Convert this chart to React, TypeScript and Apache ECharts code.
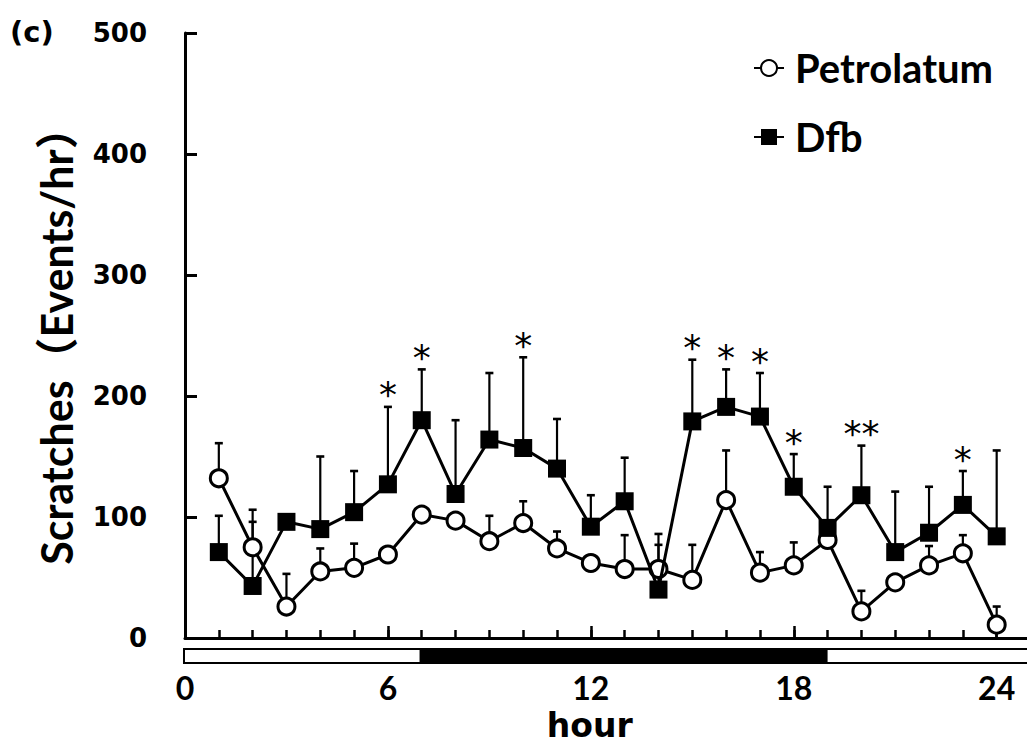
import React, { useEffect, useRef } from "react";
import * as echarts from "echarts";

// ---- data ----
const hours = [1, 2, 3, 4, 5, 6, 7, 8, 9, 10, 11, 12, 13, 14, 15, 16, 17, 18, 19, 20, 21, 22, 23, 24];
const petrolatum = [132, 75, 26, 55, 58, 69, 102, 97, 80, 95, 74, 62, 57, 57, 48, 114, 54, 60, 81, 22, 46, 60, 70, 11];
const petrolatumErr = [29, 31, 27, 19, 20, null, null, null, 21, 18, 14, null, 28, 29, 29, 41, 17, 19, null, 17, null, 16, 15, 15];
const dfb = [71, 43, 96, 90, 104, 127, 180, 119, 164, 157, 140, 92, 113, 40, 179, 191, 183, 125, 91, 118, 71, 87, 110, 84];
const dfbErr = [30, 53, null, 60, 34, 64, 42, 61, 55, 75, 41, 26, 36, 37, 51, 31, 36, 27, 34, 41, 50, 38, 28, 71];
const sigHours = [6, 7, 10, 15, 16, 17, 18, 20, 23];
const sigMarks = ["*", "*", "*", "*", "*", "*", "*", "**", "*"];
const phaseStart = [0, 7, 19];
const phaseEnd = [7, 19, 25];
const phaseDark = [0, 1, 0];
const xLabelStep = 6;
const seriesNames = ["Petrolatum", "Dfb"];

function errData(vals: number[], errs: (number | null)[]) {
  const out: number[][] = [];
  hours.forEach((h, i) => {
    const e = errs[i];
    if (e !== null && e !== undefined) out.push([h, vals[i], e]);
  });
  return out;
}

const errRender = (params: any, api: any) => {
  const x = api.value(0);
  const v = api.value(1);
  const e = api.value(2);
  const base = api.coord([x, v]);
  const top = api.coord([x, v + e]);
  return {
    type: "group",
    children: [
      { type: "line", shape: { x1: base[0], y1: base[1], x2: top[0], y2: top[1] }, style: { stroke: "#000", lineWidth: 2.2 } },
      { type: "line", shape: { x1: top[0] - 4, y1: top[1], x2: top[0] + 4, y2: top[1] }, style: { stroke: "#000", lineWidth: 2.6 } },
    ],
  };
};

export default function App() {
  const ref = useRef<HTMLDivElement>(null);

  useEffect(() => {
    document.body.style.margin = "0";
    if (!ref.current) return;
    const chart = echarts.init(ref.current, undefined, { renderer: "svg" });

    const phaseData = phaseStart.map((s, i) => [s, phaseEnd[i], phaseDark[i]]);
    const sigData = sigHours.map((h) => [h, dfb[h - 1] + (dfbErr[h - 1] || 0)]);

    const option: any = {
      animation: false,
      backgroundColor: "#fff",
      grid: { left: 185, right: -3.5, top: 33, bottom: 106, containLabel: false, outerBoundsMode: "none" },
      legend: {
        orient: "vertical",
        left: 753,
        top: 48,
        padding: 0,
        itemGap: 29,
        itemWidth: 30,
        itemHeight: 20,
        data: seriesNames,
        textStyle: { fontFamily: "Lato", fontWeight: "bold", fontSize: 40, color: "#000", lineHeight: 40, padding: [0, 0, 0, 6] },
      },
      graphic: [
        {
          type: "text",
          left: 10,
          top: 17,
          style: { text: "(c)", fontFamily: "DejaVu Sans", fontWeight: "bold", fontSize: 29, fill: "#000" },
        },
      ],
      xAxis: [
        {
          type: "value",
          min: 0,
          max: 25,
          interval: 1,
          position: "bottom",
          offset: 0,
          axisLine: { show: true, lineStyle: { color: "#000", width: 3 } },
          axisTick: { show: true, inside: true, length: 8, lineStyle: { color: "#000", width: 2.5 } },
          axisLabel: { show: false },
          splitLine: { show: false },
        },
        {
          type: "value",
          min: 0,
          max: 25,
          interval: xLabelStep,
          position: "bottom",
          offset: 0,
          axisLine: { show: false },
          axisTick: { show: true, inside: true, length: 12, lineStyle: { color: "#000", width: 2.5 } },
          axisLabel: {
            show: true,
            margin: 33,
            color: "#000",
            fontFamily: "Lato",
            fontWeight: "bold",
            fontSize: 32,
            formatter: (v: number) => (v % xLabelStep === 0 ? String(v) : ""),
          },
          splitLine: { show: false },
          name: "hour",
          nameLocation: "middle",
          nameGap: 72,
          nameTextStyle: {
            color: "#000",
            fontFamily: "DejaVu Sans",
            fontWeight: "bold",
            fontSize: 33,
            lineHeight: 30,
            padding: [0, 36, 0, 0],
          },
        },
      ],
      yAxis: {
        type: "value",
        min: 0,
        max: 500,
        interval: 100,
        axisLine: { show: true, lineStyle: { color: "#000", width: 3 } },
        axisTick: { show: true, inside: true, length: 12, lineStyle: { color: "#000", width: 3 } },
        axisLabel: { color: "#000", fontFamily: "DejaVu Sans", fontWeight: "bold", fontSize: 26, margin: 38 },
        splitLine: { show: false },
        name: "Scratches（Events/hr）",
        nameLocation: "middle",
        nameGap: 107,
        nameTextStyle: {
          color: "#000",
          fontFamily: "Lato, 'Noto Sans CJK SC', sans-serif",
          fontWeight: "bold",
          fontSize: 43,
        },
      },
      series: [
        {
          type: "custom",
          name: "phase",
          silent: true,
          z: 1,
          xAxisIndex: 0,
          clip: false,
          data: phaseData,
          renderItem: (params: any, api: any) => {
            const p0 = api.coord([api.value(0), 0]);
            const p1 = api.coord([api.value(1), 0]);
            const dark = api.value(2) === 1;
            return {
              type: "rect",
              shape: { x: p0[0] - 1, y: p0[1] + 11, width: p1[0] - p0[0], height: 14 },
              style: { fill: dark ? "#000" : "#fff", stroke: "#000", lineWidth: 2 },
            };
          },
        },
        {
          type: "custom",
          name: "PetrolatumErr",
          silent: true,
          z: 2,
          xAxisIndex: 0,
          data: errData(petrolatum, petrolatumErr),
          renderItem: errRender,
        },
        {
          type: "custom",
          name: "DfbErr",
          silent: true,
          z: 2,
          xAxisIndex: 0,
          data: errData(dfb, dfbErr),
          renderItem: errRender,
        },
        {
          type: "line",
          name: seriesNames[0],
          xAxisIndex: 0,
          z: 3,
          data: hours.map((h, i) => [h, petrolatum[i]]),
          symbol: "circle",
          symbolSize: 17,
          showAllSymbol: true,
          lineStyle: { color: "#000", width: 3 },
          itemStyle: { color: "#fff", borderColor: "#000", borderWidth: 3 },
        },
        {
          type: "line",
          name: seriesNames[1],
          xAxisIndex: 0,
          z: 4,
          data: hours.map((h, i) => [h, dfb[i]]),
          symbol: "rect",
          symbolSize: 18,
          showAllSymbol: true,
          lineStyle: { color: "#000", width: 3 },
          itemStyle: { color: "#000", borderColor: "#000", borderWidth: 0 },
        },
        {
          type: "custom",
          name: "significance",
          silent: true,
          z: 5,
          xAxisIndex: 0,
          clip: false,
          data: sigData,
          renderItem: (params: any, api: any) => {
            const p = api.coord([api.value(0), api.value(1)]);
            return {
              type: "text",
              x: p[0],
              y: p[1] - 12,
              style: {
                text: sigMarks[params.dataIndex],
                fontFamily: "DejaVu Sans",
                fontSize: 36,
                fill: "#000",
                align: "center",
                verticalAlign: "middle",
              },
            };
          },
        },
      ],
    };

    chart.setOption(option);
    return () => chart.dispose();
  }, []);

  return <div ref={ref} style={{ width: 1027, height: 744 }} />;
}
